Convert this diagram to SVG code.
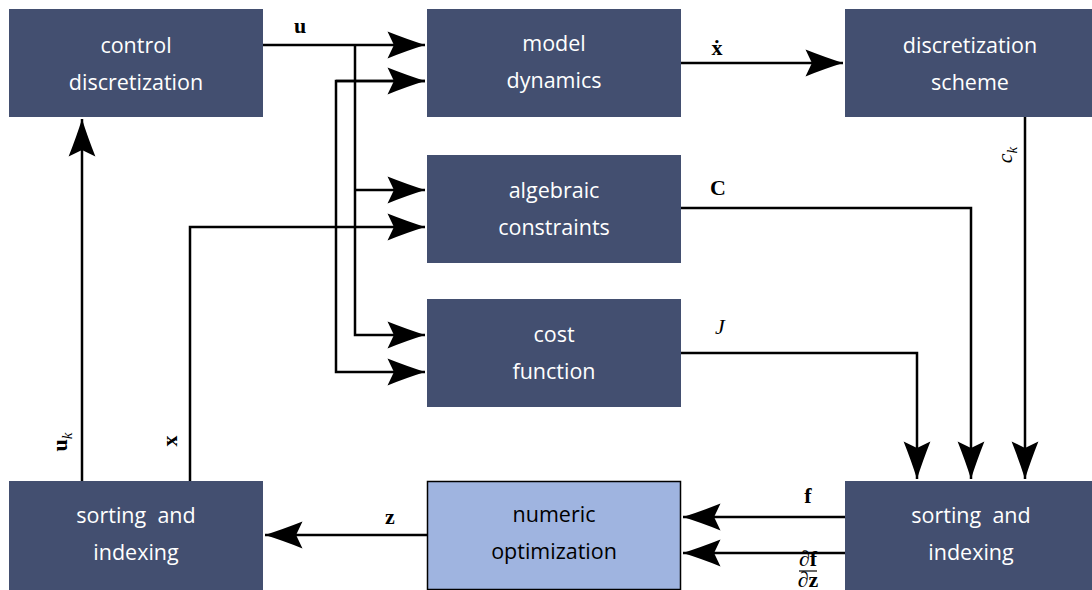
<svg xmlns="http://www.w3.org/2000/svg" width="1092" height="590" viewBox="0 0 1092 590">
<style>
.box{fill:#434f70}
.opt{fill:#9fb4e0;stroke:#000;stroke-width:1.5}
.t{font-family:"Open Sans",sans-serif;font-size:21.5px;fill:#fff;text-anchor:middle}
.td{font-family:"Open Sans",sans-serif;font-size:21.5px;fill:#000;text-anchor:middle}
.w{fill:none;stroke:#000;stroke-width:2.5}
.m{font-family:"Liberation Serif",serif;font-size:22px;font-weight:bold;fill:#000;text-anchor:middle}
.mi{font-family:"Liberation Serif",serif;font-size:22px;font-style:italic;fill:#000;text-anchor:middle}
</style>
<defs>
<marker id="a" markerUnits="userSpaceOnUse" markerWidth="40" markerHeight="30" viewBox="-36 -14 37 28" refX="0" refY="0" orient="auto">
<path d="M0 0 Q-16 -5 -35 -12.5 L-29 0 L-35 12.5 Q-16 5 0 0 Z" fill="#000"/>
</marker>
</defs>
<rect width="1092" height="590" fill="#fff"/>
<g id="connectors">
<path class="w" d="M263 45 H425" marker-end="url(#a)"/>
<path class="w" d="M355 45 V335 H425" marker-end="url(#a)"/>
<path class="w" d="M355 190 H425" marker-end="url(#a)"/>
<path class="w" d="M425 81 H336 V372 H425" marker-end="url(#a)"/>
<path class="w" d="M336 81 H425" marker-end="url(#a)"/>
<path class="w" d="M190 481 V227 H425" marker-end="url(#a)"/>
<path class="w" d="M82 481 V119" marker-end="url(#a)"/>
<path class="w" d="M681 63 H843" marker-end="url(#a)"/>
<path class="w" d="M1025 117 V479" marker-end="url(#a)"/>
<path class="w" d="M681 208 H971 V479" marker-end="url(#a)"/>
<path class="w" d="M681 353 H917 V479" marker-end="url(#a)"/>
<path class="w" d="M845 517 H683" marker-end="url(#a)"/>
<path class="w" d="M845 553 H683" marker-end="url(#a)"/>
<path class="w" d="M427 535 H265" marker-end="url(#a)"/>
<text class="m" x="300" y="33">u</text>
<text class="m" x="717" y="55">ẋ</text>
<text class="mi" transform="translate(1012,155) rotate(-90)">c<tspan font-size="15" dy="5">k</tspan></text>
<text class="m" x="718" y="195">C</text>
<text class="mi" x="720" y="334">J</text>
<text class="m" x="808" y="503">f</text>
<text class="m" font-size="13"><tspan x="808" y="566">∂f</tspan><tspan x="808" y="587">∂z</tspan></text>
<line x1="799" y1="571" x2="817" y2="571" stroke="#000" stroke-width="1.2"/>
<text class="m" x="390" y="524">z</text>
<text class="m" transform="translate(67,442) rotate(-90)">u<tspan font-size="15" font-style="italic" font-weight="normal" dy="5">k</tspan></text>
<text class="m" transform="translate(177,441) rotate(-90)">x</text>
</g>
<g id="control-discretization"><rect class="box" x="9" y="9" width="254" height="108"/><text class="t" x="136" y="53">control</text><text class="t" x="136" y="90">discretization</text></g>
<g id="model-dynamics"><rect class="box" x="427" y="9" width="254" height="108"/><text class="t" x="554" y="51">model</text><text class="t" x="554" y="88">dynamics</text></g>
<g id="discretization-scheme"><rect class="box" x="845" y="9" width="247" height="108"/><text class="t" x="970" y="53">discretization</text><text class="t" x="970" y="90">scheme</text></g>
<g id="algebraic-constraints"><rect class="box" x="427" y="155" width="254" height="108"/><text class="t" x="554" y="198">algebraic</text><text class="t" x="554" y="235">constraints</text></g>
<g id="cost-function"><rect class="box" x="427" y="299" width="254" height="108"/><text class="t" x="554" y="342">cost</text><text class="t" x="554" y="379">function</text></g>
<g id="sorting-left"><rect class="box" x="9" y="481" width="254" height="109"/><text class="t" x="136" y="523" xml:space="preserve">sorting  and</text><text class="t" x="136" y="560">indexing</text></g>
<g id="numeric-optimization"><rect class="opt" x="427.5" y="481.5" width="253" height="108"/><text class="td" x="554" y="522">numeric</text><text class="td" x="554" y="559">optimization</text></g>
<g id="sorting-right"><rect class="box" x="845" y="481" width="247" height="109"/><text class="t" x="971" y="523" xml:space="preserve">sorting  and</text><text class="t" x="971" y="560">indexing</text></g>
</svg>
